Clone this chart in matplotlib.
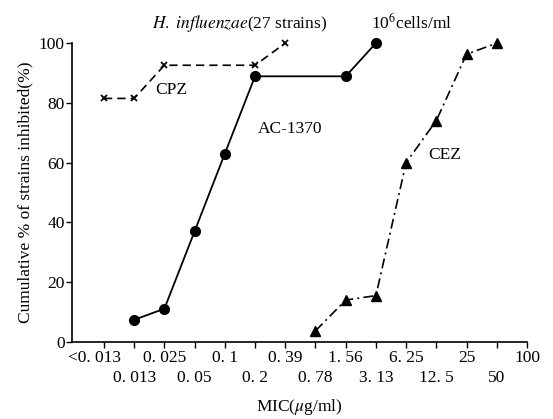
import matplotlib
matplotlib.use("Agg")
import matplotlib.pyplot as plt
import matplotlib.transforms as mtransforms

# MIC scale (two-fold dilutions), drawn as equally spaced categories
mic_top = ["<0. 013", "0. 025", "0. 1", "0. 39", "1. 56", "6. 25", "25", "100"]
mic_bottom = ["0. 013", "0. 05", "0. 2", "0. 78", "3. 13", "12. 5", "50"]

# cumulative % of strains inhibited, index = position on the MIC scale
cpz_x = [0, 1, 2, 5, 6]
cpz_y = [81.5, 81.5, 92.6, 92.6, 100]

ac_x = [1, 2, 3, 4, 5, 8, 9]
ac_y = [7.4, 11.1, 37.0, 63.0, 88.9, 88.9, 100]

cez_x = [7, 8, 9, 10, 11, 12, 13]
cez_y = [3.7, 14.0, 15.5, 60.0, 74.1, 96.3, 100]

plt.rcParams['font.family'] = ['Liberation Serif', 'DejaVu Serif']
plt.rcParams['mathtext.fontset'] = 'stix'

fig = plt.figure(figsize=(5.53, 4.19), dpi=100)
ax = fig.add_axes([0.130, 0.184, 0.823, 0.713])

# lines
ax.plot(cpz_x, cpz_y, color='black', linestyle=(0, (5, 3)), linewidth=1.2,
        marker='x', markersize=5, markeredgewidth=1.3, clip_on=False)
ax.plot(ac_x, ac_y, color='black', linestyle='-', linewidth=1.3,
        marker='o', markersize=7, clip_on=False)
ax.plot(cez_x, cez_y, color='black', linestyle=(0, (6, 2.5, 1.2, 2.5)), linewidth=1.2,
        marker='^', markersize=7, clip_on=False)

ax.set_xlim(-1.06, 14)
ax.set_ylim(0, 100)

ax.spines['top'].set_visible(False)
ax.spines['right'].set_visible(False)
ax.spines['left'].set_linewidth(1.2)
ax.spines['bottom'].set_linewidth(1.2)

ax.set_yticks([0, 20, 40, 60, 80, 100])
ax.tick_params(axis='y', direction='out', length=4, width=1, labelsize=12.5, pad=1)

# two rows of MIC labels: even positions on top, odd positions below
ax.set_xticks(range(0, 15, 2))
ax.set_xticklabels(mic_top)
ax.set_xticks(range(1, 15, 2), minor=True)
ax.set_xticklabels(mic_bottom, minor=True)
ax.tick_params(axis='x', which='major', direction='out', length=4, width=1, labelsize=12.5, pad=2)
ax.tick_params(axis='x', which='minor', direction='out', length=4, width=1, labelsize=12.5, pad=16)
# "<" hangs to the left of the first tick
shift = mtransforms.ScaledTranslation(-9 / 100, 0, fig.dpi_scale_trans)
first = ax.get_xticklabels()[0]
first.set_transform(first.get_transform() + shift)

ax.set_ylabel("Cumulative % of strains inhibited(%)", fontsize=12.5, labelpad=4)
ax.set_xlabel(r"MIC($\mu$g/ml)", fontsize=12.5, labelpad=8)

# annotations
ax.text(4.5, 106.7, r"$\it{H.\ influenzae}$(27 strains)", fontsize=12.5,
        ha='center', va='center', clip_on=False)
ax.text(8.84, 106.7, r"10$^{6}$cells/ml", fontsize=12.5,
        ha='left', va='center', clip_on=False)
ax.text(1.69, 84.3, "CPZ", fontsize=12.5, ha='left', va='center')
ax.text(7.22, 71.2, "AC-1370", fontsize=12.5, ha='right', va='center')
ax.text(10.73, 62.7, "CEZ", fontsize=12.5, ha='left', va='center')

fig.savefig("out.png", dpi=100)
